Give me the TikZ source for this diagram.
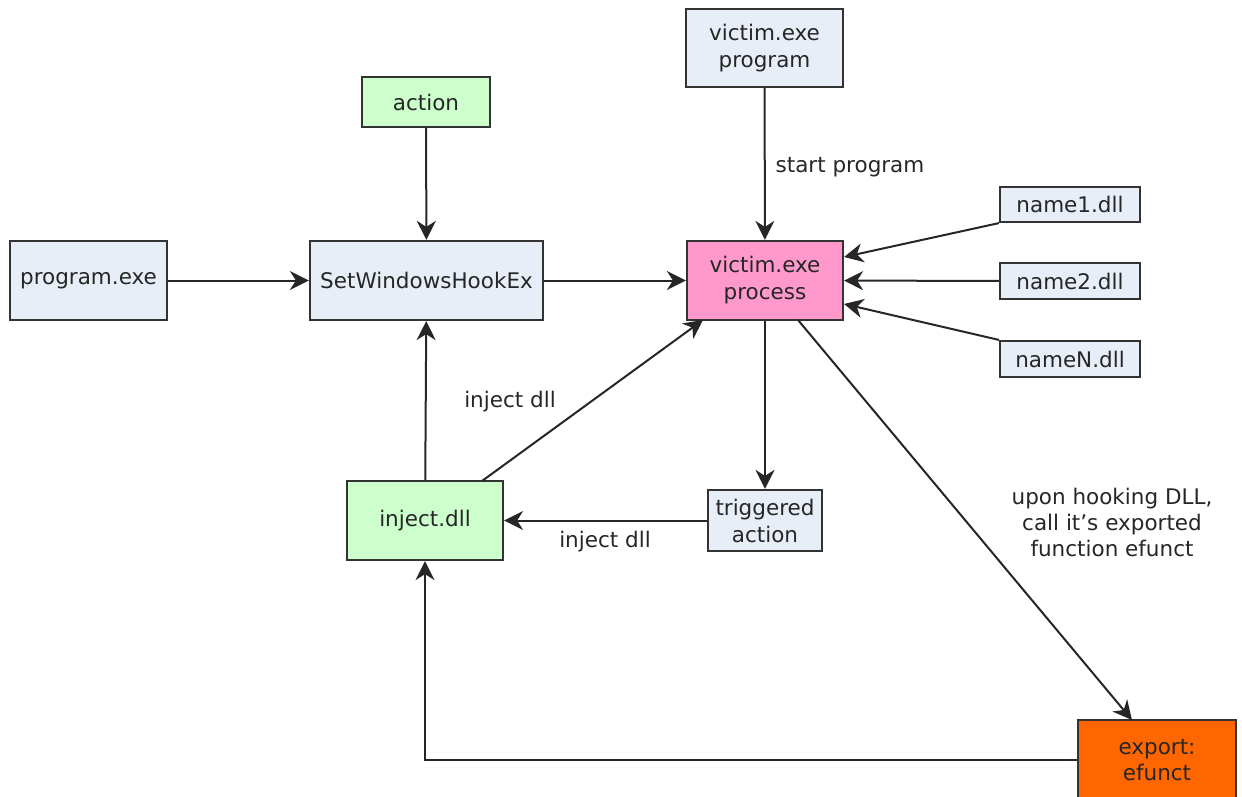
\documentclass[tikz,border=0pt]{standalone}
\usepackage{fontspec}
\setmainfont{DejaVu Sans}
\usetikzlibrary{arrows.meta}
\definecolor{boxblue}{HTML}{E8EEF8}
\definecolor{boxgreen}{HTML}{CCFFCC}
\definecolor{boxpink}{HTML}{FF99CC}
\definecolor{boxorange}{HTML}{FF6600}
\definecolor{edge}{HTML}{333333}
\tikzset{
  box/.style={draw=edge, line width=2.2pt, fill=boxblue, inner sep=0pt, align=center,
    font=\fontsize{21.5}{27}\selectfont, text=black!85},
  conn/.style={draw=black!85, line width=2pt, -{Stealth[length=19pt,width=19pt,inset=6pt]}},
  lbl/.style={font=\fontsize{21.5}{26}\selectfont, text=black!85, align=center, inner sep=0pt},
}
\begin{document}
\begin{tikzpicture}[x=1pt,y=-1pt]
\useasboundingbox (0,0) rectangle (1242,797);
\clip (0,0) rectangle (1242,797);
\node[box, fill=boxgreen, minimum width=128pt, minimum height=50pt] (action) at (426,102) {action};
\node[box, minimum width=157pt, minimum height=78pt] (vprog) at (764.5,48) {victim.exe\\program};
\node[box, minimum width=157pt, minimum height=79pt] (pexe) at (88.5,280.5) {program.exe};
\node[box, minimum width=233pt, minimum height=79pt] (hook) at (426.5,280.5) {SetWindowsHookEx};
\node[box, fill=boxpink, minimum width=156pt, minimum height=79pt] (vproc) at (765,280.5) {victim.exe\\process};
\node[box, minimum width=140pt, minimum height=35pt] (n1) at (1070,204.5) {name1.dll};
\node[box, minimum width=140pt, minimum height=36pt] (n2) at (1070,281) {name2.dll};
\node[box, minimum width=140pt, minimum height=36pt] (nN) at (1070,359) {nameN.dll};
\node[box, fill=boxgreen, minimum width=156pt, minimum height=79pt] (inj) at (425,520.5) {inject.dll};
\node[box, minimum width=114pt, minimum height=61pt] (trig) at (765,520.5) {triggered\\action};
\node[box, fill=boxorange, minimum width=158pt, minimum height=110pt] (exp) at (1157,775) {};
\node[lbl] (explbl) at (1157,760) {export:\\efunct};

\draw[conn] (action) -- (hook);
\draw[conn] (pexe) -- (hook);
\draw[conn] (hook) -- (vproc);
\draw[conn] (vprog) -- (vproc);
\node[lbl] (l1) at (850,167) {start program};
\draw[conn] (n1.south west) -- (vproc.east |- 0,257);
\draw[conn] (n2) -- (vproc);
\draw[conn] (nN.north west) -- (vproc.east |- 0,304);
\draw[conn] (vproc) -- (trig);
\draw[conn] (trig) -- (inj);
\node[lbl] (l2) at (605,542) {inject dll};
\draw[conn] (inj) -- (hook);
\coordinate (injtop) at (482,481);
\coordinate (proctip) at (703,320);
\draw[conn] (injtop) -- (proctip);
\node[lbl] (l3) at (510,402) {inject dll};
\coordinate (procbot) at (798,320);
\coordinate (exptop) at (1132,720);
\draw[conn] (procbot) -- (exptop);
\node[lbl] (l4) at (1112,522) {upon hooking DLL,\\call it{\char"0027}s exported\\function efunct};
\draw[conn] (exp.west |- 0,760) -| (inj.south);
\end{tikzpicture}
\end{document}
